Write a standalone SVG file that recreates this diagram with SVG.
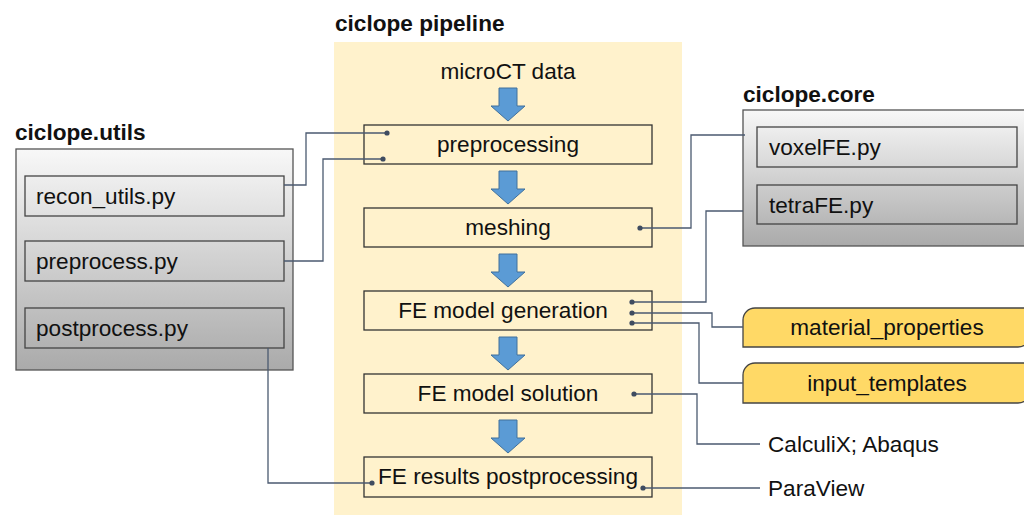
<svg xmlns="http://www.w3.org/2000/svg" width="1024" height="516" viewBox="0 0 1024 516">
<defs>
<linearGradient id="gUtils" x1="0" y1="149" x2="0" y2="370" gradientUnits="userSpaceOnUse">
<stop offset="0" stop-color="#f8f8f8"/><stop offset="1" stop-color="#aaaaaa"/>
</linearGradient>
<linearGradient id="gCore" x1="0" y1="110" x2="0" y2="246" gradientUnits="userSpaceOnUse">
<stop offset="0" stop-color="#f8f8f8"/><stop offset="1" stop-color="#aaaaaa"/>
</linearGradient>
<path id="arr" d="M-9,0 H9 V18 H17 L0,33 L-17,18 H-9 Z"/>
</defs>
<style>
text{font-family:"Liberation Sans",Arial,sans-serif;fill:#111}
.t{font-size:22.6px}
.b{font-size:22.6px;font-weight:bold}
.pb{fill:none;stroke:#333;stroke-width:1.3}
.gb{stroke:#555;stroke-width:1.3}
.ib{stroke:#444;stroke-width:1.3}
.ar{fill:#5b9bd5;stroke:#41719c;stroke-width:1}
.c{fill:none;stroke:#4b5a70;stroke-width:1.3}
.d{fill:#3f4c60}
.y{fill:#ffd966;stroke:#444;stroke-width:1.3}
</style>

<g id="pipeline">
<text class="b" x="335" y="31">ciclope pipeline</text>
<rect x="334" y="42" width="348" height="473" fill="#fff2cc"/>
<text class="t" x="508" y="79" text-anchor="middle">microCT data</text>
<use href="#arr" x="508" y="88" class="ar"/>
<use href="#arr" x="508" y="171" class="ar"/>
<use href="#arr" x="508" y="254" class="ar"/>
<use href="#arr" x="508" y="337" class="ar"/>
<use href="#arr" x="508" y="420" class="ar"/>
</g>
<g id="preprocessing"><rect class="pb" x="364" y="125" width="288" height="39"/><text class="t" x="508" y="152" text-anchor="middle">preprocessing</text></g>
<g id="meshing"><rect class="pb" x="364" y="208" width="288" height="39"/><text class="t" x="508" y="235" text-anchor="middle">meshing</text></g>
<g id="fegen"><rect class="pb" x="364" y="291" width="288" height="39"/><text class="t" x="503" y="318" text-anchor="middle">FE model generation</text></g>
<g id="fesol"><rect class="pb" x="364" y="374" width="288" height="39"/><text class="t" x="508" y="401" text-anchor="middle">FE model solution</text></g>
<g id="fepost"><rect class="pb" x="364" y="457" width="288" height="40"/><text class="t" x="508" y="484" text-anchor="middle">FE results postprocessing</text></g>

<g id="utils">
<text class="b" x="15" y="140">ciclope.utils</text>
<rect class="gb" x="16" y="149" width="277" height="221" fill="url(#gUtils)"/>
<g id="recon_utils"><rect class="ib" x="25" y="176" width="259" height="40" fill="url(#gUtils)"/><text class="t" x="36" y="204">recon_utils.py</text></g>
<g id="preprocess_py"><rect class="ib" x="25" y="241" width="259" height="40" fill="url(#gUtils)"/><text class="t" x="36" y="269">preprocess.py</text></g>
<g id="postprocess_py"><rect class="ib" x="25" y="308" width="259" height="40" fill="url(#gUtils)"/><text class="t" x="36" y="336">postprocess.py</text></g>
</g>

<g id="core">
<text class="b" x="743" y="102">ciclope.core</text>
<rect class="gb" x="743" y="110" width="300" height="136" fill="url(#gCore)"/>
<g id="voxelFE"><rect class="ib" x="757" y="127" width="260" height="40" fill="url(#gCore)"/><text class="t" x="769" y="155">voxelFE.py</text></g>
<g id="tetraFE"><rect class="ib" x="757" y="185" width="260" height="39" fill="url(#gCore)"/><text class="t" x="769" y="213">tetraFE.py</text></g>
</g>

<g id="material_properties"><path class="y" d="M743,347 V320 A12,12 0 0 1 755,308 H1030 V335 A12,12 0 0 1 1018,347 Z"/><text class="t" x="887" y="335" text-anchor="middle">material_properties</text></g>
<g id="input_templates"><path class="y" d="M743,403 V375 A12,12 0 0 1 755,363 H1030 V391 A12,12 0 0 1 1018,403 Z"/><text class="t" x="887" y="391" text-anchor="middle">input_templates</text></g>

<g id="calculix"><text class="t" x="768" y="452">CalculiX; Abaqus</text></g>
<g id="paraview"><text class="t" x="768" y="496">ParaView</text></g>

<g id="connectors">
<polyline class="c" points="284,185 306,185 306,133 387,133"/>
<polyline class="c" points="284,261 323,261 323,159 383,159"/>
<polyline class="c" points="640,228 691,228 691,135 745,135"/>
<polyline class="c" points="632,302 706,302 706,211 743,211"/>
<polyline class="c" points="632,313 712,313 712,327 743,327"/>
<polyline class="c" points="632,323 699,323 699,383 743,383"/>
<polyline class="c" points="634,394 697,394 697,444 760,444"/>
<polyline class="c" points="643,488 760,488"/>
<polyline class="c" points="268,348 268,483 372,483"/>
<circle class="d" cx="387" cy="133" r="2.6"/>
<circle class="d" cx="383" cy="159" r="2.6"/>
<circle class="d" cx="640" cy="228" r="2.6"/>
<circle class="d" cx="632" cy="302" r="2.6"/>
<circle class="d" cx="632" cy="313" r="2.6"/>
<circle class="d" cx="632" cy="323" r="2.6"/>
<circle class="d" cx="634" cy="394" r="2.6"/>
<circle class="d" cx="643" cy="488" r="2.6"/>
<circle class="d" cx="372" cy="483" r="2.6"/>
</g>
</svg>
